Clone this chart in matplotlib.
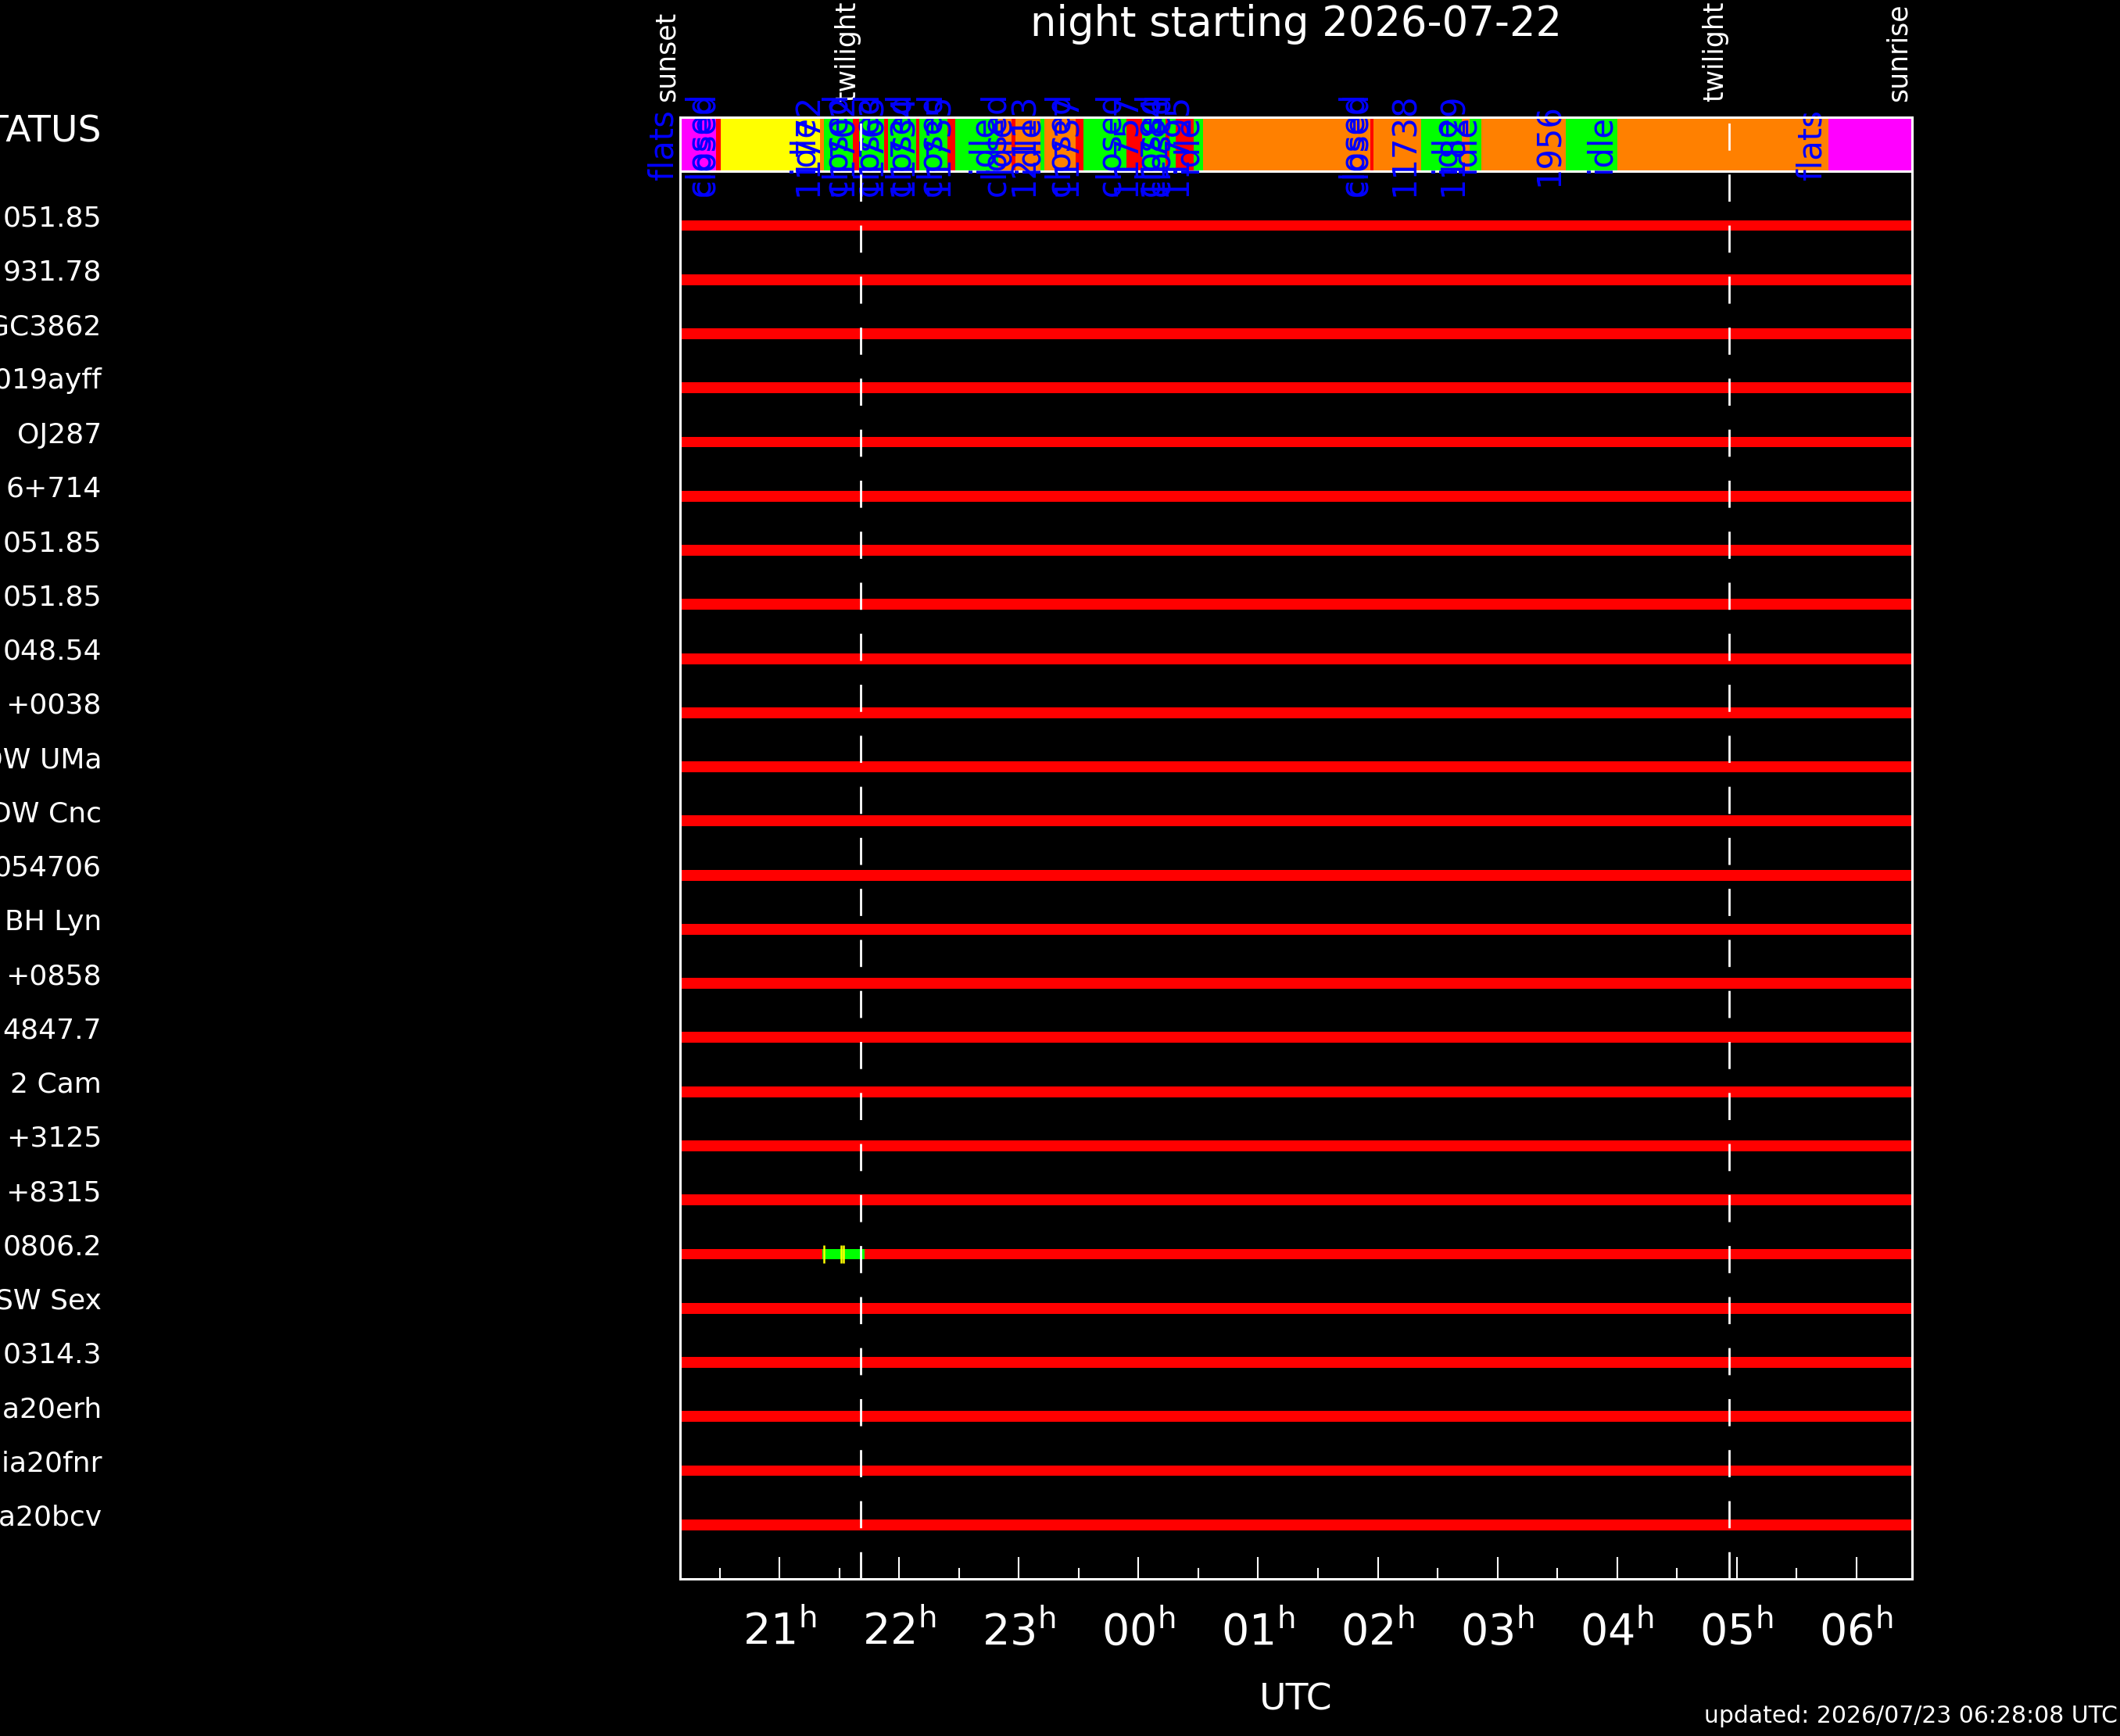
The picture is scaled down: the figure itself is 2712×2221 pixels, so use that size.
import matplotlib
matplotlib.use('Agg')
import matplotlib.pyplot as plt
import matplotlib.transforms as mtrans
import numpy as np

plt.rcParams['lines.scale_dashes'] = False

# night times, hours UTC (after midnight counted as 24+)
SUNSET = 20.167
EVE_TWI = 21.675
MORN_TWI = 28.935
SUNRISE = 30.467

targets = ["051.85", "931.78", "NGC3862", "2019ayff", "OJ287", "6+714",
           "051.85", "051.85", "048.54", "+0038", "DW UMa", "DW Cnc",
           "054706", "BH Lyn", "+0858", "4847.7", "2 Cam", "+3125",
           "+8315", "0806.2", "SW Sex", "0314.3", "Gaia20erh",
           "Gaia20fnr", "Gaia20bcv"]

# status bar: start time of each segment and its state
seg_start = [20.167, 20.468, 20.506, 21.337, 21.370, 21.612, 21.665, 21.874,
             21.906, 22.142, 22.168, 22.403, 22.469, 22.829, 22.940, 22.972,
             23.181, 23.214, 23.476, 23.541, 23.901, 24.031, 24.228, 24.260,
             24.313, 24.463, 24.542, 25.935, 25.967, 26.360, 26.700, 26.765,
             26.863, 27.570, 28.001, 29.767]
seg_state = ["flats", "closed", "wait", "idle", "obs", "closed", "obs", "closed",
             "obs", "closed", "obs", "closed", "obs", "idle", "closed", "idle",
             "obs", "idle", "closed", "obs", "closed", "obs", "closed", "obs",
             "closed", "obs", "idle", "closed", "idle", "obs", "idle", "obs",
             "idle", "obs", "idle", "flats"]
state_colors = {"flats": "#ff00ff", "closed": "#ff0000", "wait": "#ffff00",
                "idle": "#ff8000", "obs": "#00ff00"}

label_pos = [20.167, 20.468, 20.506, 21.337, 21.370, 21.612, 21.665, 21.874,
             21.906, 22.142, 22.168, 22.403, 22.469, 22.829, 22.940, 22.972,
             23.181, 23.214, 23.476, 23.541, 23.901, 24.031, 24.228, 24.260,
             24.313, 24.463, 24.542, 25.935, 25.967, 26.360, 26.700, 26.765,
             26.863, 27.570, 28.001, 29.767]
label_text = ["flats", "closed", "closed", "idle", "11772", "closed", "11702",
              "closed", "11763", "closed", "11734", "closed", "11735", "idle",
              "closed", "idle", "12113", "idle", "closed", "11737", "closed",
              "11757", "closed", "11784", "closed", "11795", "idle", "closed",
              "closed", "11738", "idle", "11829", "idle", "1956", "idle", "flats"]

# the one target that got observed
obs_row = 19
obs_start = 21.357
obs_end = 21.710
obs_marks = [21.370, 21.514, 21.534]

hours = list(range(21, 31))
hour_labels = ['%02d$^{\\mathrm{h}}$' % (h % 24) for h in hours]

W, H = 2712, 2221
fig = plt.figure(figsize=(W / 100, H / 100), dpi=100, facecolor='black')
ax = fig.add_axes([870 / W, 1 - 2020 / H, (2446 - 870) / W, (2020 - 150) / H])
ax.set_facecolor('black')
ax.set_xlim(SUNSET, SUNRISE)
ax.set_ylim(25, -2)

# status bar
seg_end = seg_start[1:] + [SUNRISE]
for s, e, st in zip(seg_start, seg_end, seg_state):
    ax.barh(-1.5, e - s, left=s, height=1.0, color=state_colors[st], linewidth=0, zorder=2)
ax.axhline(-1, color='white', lw=2.2, zorder=6)

for x, t in zip(label_pos, label_text):
    ax.text(x, -1.5, t, rotation=90, ha='right', va='center', color='#0000ff',
            fontsize=30, clip_on=False, zorder=7)

# target rows
rows = np.arange(len(targets))
ax.barh(rows, SUNRISE - SUNSET, left=SUNSET, height=0.2, color='#ff0000', linewidth=0, zorder=2)
ax.barh(obs_row, obs_end - obs_start, left=obs_start, height=0.2, color='#00ff00',
        linewidth=0, zorder=3)
ax.vlines(obs_marks, obs_row - 0.16, obs_row + 0.16, color='#ffff00', lw=1.8, zorder=4)

lab_tr = mtrans.blended_transform_factory(ax.transAxes, ax.transData)
ax.text(-0.4695, -1.73, "STATUS", transform=lab_tr, ha='right', va='center',
        color='white', fontsize=34, clip_on=False)
for i, name in enumerate(targets):
    ax.text(-0.4695, i - 0.13, name, transform=lab_tr, ha='right', va='center',
            color='white', fontsize=26, clip_on=False)

# twilight lines
for t in [EVE_TWI, MORN_TWI]:
    ax.plot([t, t], [25, -2], color='white', lw=2, dashes=(25, 22), zorder=8)

ev_tr = mtrans.blended_transform_factory(ax.transData, ax.transAxes)
for t, name in [(SUNSET, 'sunset'), (EVE_TWI, 'twilight'),
                (MORN_TWI, 'twilight'), (SUNRISE, 'sunrise')]:
    ax.text(t, 1.0107, name, transform=ev_tr, rotation=90, ha='right', va='bottom',
            color='white', fontsize=25, clip_on=False)

# axis
ax.set_xticks(hours)
ax.set_xticklabels(hour_labels)
ax.set_xticks(np.arange(20.5, SUNRISE, 1.0), minor=True)
ax.set_yticks([])
ax.tick_params(which='both', direction='in', top=True, bottom=True, colors='white', width=1.5)
ax.tick_params(which='major', length=20, labelsize=40, pad=29)
ax.tick_params(which='minor', length=10)
for sp in ax.spines.values():
    sp.set_color('white')
    sp.set_linewidth(2.2)
    sp.set_zorder(9)

fig.text(0.6114, 1 - 31 / H, 'night starting 2026-07-22', ha='center', va='center',
         color='white', fontsize=38)
fig.text(0.6114, 1 - 2175 / H, 'UTC', ha='center', va='center', color='white', fontsize=34)
fig.text(2709 / W, 1 - 2204 / H, 'updated: 2026/07/23 06:28:08 UTC', ha='right',
         va='baseline', color='white', fontsize=21.5)

fig.savefig('out.png', dpi=100, facecolor='black')
